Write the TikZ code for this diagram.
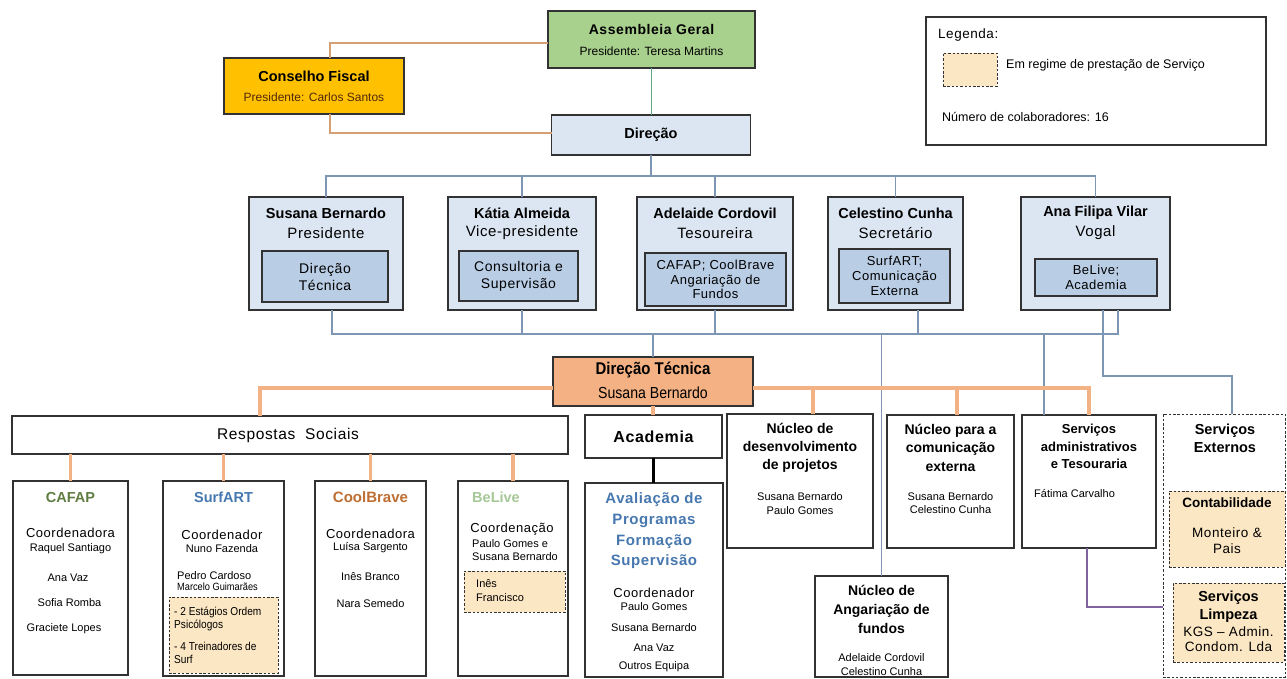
\documentclass[tikz,border=0pt]{standalone}
\usepackage{fontspec}
\setmainfont{Liberation Sans}
\newfontfamily\nar[FakeStretch=0.88,Ligatures=TeX]{Liberation Sans}
\newfontfamily\spc[LetterSpace=4,Ligatures=TeX]{Liberation Sans}
\newcommand{\fsz}[2]{\fontsize{#1}{#2}\selectfont}
\definecolor{agfill}{RGB}{169,209,142}
\definecolor{cffill}{RGB}{255,192,0}
\definecolor{lblue}{RGB}{220,230,242}
\definecolor{mblue}{RGB}{185,205,229}
\definecolor{dtfill}{RGB}{244,177,131}
\definecolor{beige}{RGB}{252,231,196}
\definecolor{bordc}{RGB}{50,50,50}
\definecolor{tanl}{RGB}{212,160,115}
\definecolor{greenl}{RGB}{95,170,130}
\definecolor{bluel}{RGB}{125,150,180}
\definecolor{orangel}{RGB}{242,178,132}
\definecolor{purplel}{RGB}{128,100,162}
\definecolor{cafapc}{RGB}{95,125,65}
\definecolor{surfc}{RGB}{70,120,175}
\definecolor{coolc}{RGB}{190,110,50}
\definecolor{belivec}{RGB}{165,200,150}
\definecolor{avalc}{RGB}{70,120,175}
\definecolor{cftext}{RGB}{80,40,10}
\begin{document}
\begin{tikzpicture}[x=1pt,y=-1pt,
  box/.style={draw=bordc,line width=1.1pt,inner sep=0pt,outer sep=0pt},
  dbox/.style={draw=bordc,line width=1pt,dash pattern=on 2.5pt off 1.8pt,inner sep=0pt,outer sep=0pt},
  txt/.style={inner sep=0pt,align=center},
  ltxt/.style={inner sep=0pt,align=left,anchor=west},
  tanline/.style={draw=tanl,line width=1.3pt},
  greenline/.style={draw=greenl,line width=1.3pt},
  blueline/.style={draw=bluel,line width=1.3pt},
  orangeline/.style={draw=orangel,line width=3.5pt},
  blackline/.style={draw=black,line width=3.5pt},
  purpleline/.style={draw=purplel,line width=1.3pt}]
\useasboundingbox (0,0) rectangle (1287,678);
\fill[white] (0,0) rectangle (1287,678);

% ---------- top
\node[box,fill=agfill,minimum width=207pt,minimum height=57pt] (ag) at (651.5,39.5) {};
\node[txt,font=\fsz{14}{16}\spc\bfseries] (agt1) at (651.5,29) {Assembleia Geral};
\node[txt,font=\fsz{12}{14}] (agt2) at (651.5,51) {Presidente: Teresa Martins};

\node[box,fill=cffill,minimum width=180pt,minimum height=56pt] (cf) at (314,86) {};
\node[txt,font=\fsz{14.5}{16}\bfseries] (cft1) at (314,76) {Conselho Fiscal};
\node[txt,font=\fsz{12}{14},text=cftext] (cft2) at (314,97) {Presidente: Carlos Santos};

\node[box,fill=lblue,minimum width=199pt,minimum height=40pt,font=\fsz{14.5}{16}\bfseries] (dir) at (651,135) {Direção};

\draw[tanline] ([yshift=-3.5pt]ag.west) -| ([xshift=16pt]cf.north);
\draw[tanline] ([xshift=16pt]cf.south) |- ([yshift=2pt]dir.west);
\draw[greenline] (ag.south) -- (ag.south |- dir.north);

% ---------- legend
\node[draw=bordc,line width=1.1pt,minimum width=340pt,minimum height=128pt,inner sep=0pt] (leg) at (1096,81) {};
\node[ltxt,font=\fsz{13.5}{16}\spc] (legt) at (938,35) {Legenda:};
\node[dbox,fill=beige,minimum width=54pt,minimum height=33pt] (lgsw) at (970,69.5) {};
\node[ltxt,font=\fsz{12.5}{15}] (legt2) at (1006,65) {Em regime de prestação de Serviço};
\node[ltxt,font=\fsz{12.5}{15}] (legt3) at (942,117) {Número de colaboradores: 16};

% ---------- board
\tikzset{bb/.style={box,fill=lblue,minimum height=113pt},
         ib/.style={box,fill=mblue,align=center,font=\fsz{14}{17}\spc},
         bname/.style={txt,font=\fsz{14.5}{16}\bfseries},
         brole/.style={txt,font=\fsz{15}{17}\spc}}
\node[bb,minimum width=154pt] (sb) at (326,253.5) {};
\node[bname] (sbn) at (326,213) {Susana Bernardo};
\node[brole] (sbr) at (326,233) {Presidente};
\node[ib,minimum width=126pt,minimum height=51pt] (sbi) at (325,276.5) {Direção\\Técnica};

\node[bb,minimum width=148pt] (ka) at (522,253.5) {};
\node[bname] (kan) at (522,213) {Kátia Almeida};
\node[brole] (kar) at (522,233) {Vice-presidente};
\node[ib,minimum width=119pt,minimum height=50pt] (kai) at (518.5,276) {Consultoria e\\Supervisão};

\node[bb,minimum width=156pt] (ac) at (715,253.5) {};
\node[bname] (acn) at (715,213) {Adelaide Cordovil};
\node[brole] (acr) at (715,233) {Tesoureira};
\node[ib,minimum width=141pt,minimum height=53pt,font=\fsz{13}{14.5}\spc] (aci) at (715.5,279.5) {CAFAP; CoolBrave\\Angariação de\\Fundos};

\node[bb,minimum width=135pt] (cc) at (895.5,253.5) {};
\node[bname] (ccn) at (895.5,213) {Celestino Cunha};
\node[brole] (ccr) at (895.5,233) {Secretário};
\node[ib,minimum width=111pt,minimum height=54pt,font=\fsz{13}{15}\spc] (cci) at (894.5,276) {SurfART;\\Comunicação\\Externa};

\node[bb,minimum width=149pt] (af) at (1095.5,253.5) {};
\node[bname] (afn) at (1095.5,213) {Ana Filipa Vilar};
\node[brole] (afr) at (1095.5,233) {Vogal};
\node[ib,minimum width=122pt,minimum height=37pt,font=\fsz{13}{15}\spc] (afi) at (1096,277.5) {BeLive;\\Academia};

\coordinate (tb) at (0,176);
\draw[blueline] (dir.south) -- (dir.south |- tb);
\draw[blueline] (sb.north) -- (sb.north |- tb) -| (af.north);
\draw[blueline] (ka.north) -- (ka.north |- tb);
\draw[blueline] (ac.north) -- (ac.north |- tb);
\draw[blueline] (cc.north) -- (cc.north |- tb);

% ---------- direção técnica
\node[box,fill=dtfill,minimum width=200pt,minimum height=49pt] (dt) at (653,381.5) {};
\node[txt,font=\fsz{17}{18}\nar\bfseries] (dtt1) at (653,370) {Direção Técnica};
\node[txt,font=\fsz{16}{18}\nar] (dtt2) at (653,393) {Susana Bernardo};

\coordinate (bbus) at (0,334);
\draw[blueline] ([xshift=6pt]sb.south) -- ([xshift=6pt]sb.south |- bbus) -| ([xshift=22.5pt]af.south);
\draw[blueline] (ka.south) -- (ka.south |- bbus);
\draw[blueline] (ac.south) -- (ac.south |- bbus);
\draw[blueline] ([xshift=22.5pt]cc.south) -- ([xshift=22.5pt]cc.south |- bbus);
\draw[blueline] (dt.north) -- (dt.north |- bbus);

% ---------- second level
\node[box,minimum width=556pt,minimum height=38pt] (rs) at (290,435) {};
\node[txt,font=\fsz{15.5}{18}\nar\spc] (rst) at (288,435) {Respostas\ \ Sociais};

\node[box,minimum width=137pt,minimum height=43pt,font=\fsz{16}{18}\spc\bfseries] (acad) at (653.5,436.5) {Academia};

\node[box,minimum width=146pt,minimum height=134pt] (nd) at (800,481) {};
\node[txt,font=\fsz{14}{18}\bfseries] (ndt) at (800,448) {Núcleo de\\desenvolvimento\\de projetos};
\node[txt,font=\fsz{11}{13.5}] (ndp) at (800,503.5) {Susana Bernardo\\Paulo Gomes};

\node[box,minimum width=127pt,minimum height=133pt] (nc) at (950.5,481.5) {};
\node[txt,font=\fsz{14}{18.5}\bfseries] (nct) at (950.5,447.5) {Núcleo para a\\comunicação\\externa};
\node[txt,font=\fsz{11}{13.5}] (ncp) at (950.5,503) {Susana Bernardo\\Celestino Cunha};

\node[box,minimum width=134pt,minimum height=133pt] (sa) at (1089,481.5) {};
\node[txt,font=\fsz{13}{17.5}\bfseries] (sat) at (1089,446.5) {Serviços\\administrativos\\e Tesouraria};
\node[ltxt,font=\fsz{11}{13}] (sap) at (1034,493) {Fátima Carvalho};

\node[dbox,minimum width=122pt,minimum height=263pt] (se) at (1224,545.5) {};
\node[txt,font=\fsz{14.5}{18}\bfseries] (set) at (1225,438) {Serviços\\Externos};
\node[dbox,fill=beige,minimum width=116pt,minimum height=76pt] (cont) at (1227,529) {};
\node[txt,font=\fsz{13.5}{16}\bfseries] (contt) at (1227,503) {Contabilidade};
\node[txt,font=\fsz{13.5}{16}\spc] (contp) at (1227,541) {Monteiro \&\\Pais};
\node[dbox,fill=beige,minimum width=111pt,minimum height=79pt] (limp) at (1228.5,622.5) {};
\node[txt,font=\fsz{14.5}{17.5}\bfseries] (limpt) at (1228.5,606.5) {Serviços\\Limpeza};
\node[txt,font=\fsz{13.5}{14.5}\spc] (limpp) at (1228.5,639) {KGS – Admin.\\Condom. Lda};

\node[box,minimum width=133pt,minimum height=101pt] (ang) at (881.5,626.5) {};
\node[txt,font=\fsz{14}{19}\bfseries] (angt) at (881.5,609) {Núcleo de\\Angariação de\\fundos};
\node[txt,font=\fsz{11}{14}] (angp) at (881.5,665) {Adelaide Cordovil\\Celestino Cunha};

\draw[blueline] (ang.north) -- (ang.north |- bbus);
\draw[blueline] ([xshift=-45pt]sa.north) -- ([xshift=-45pt]sa.north |- bbus);
\draw[blueline] ([xshift=7.5pt]af.south) |- ([xshift=8pt,yshift=38pt]se.north) -- ([xshift=8pt]se.north);
\draw[purpleline] ([xshift=-2pt]sa.south) |- ([yshift=-61.5pt]se.west);

% ---------- orange connectors
\coordinate (orow) at (0,388);
\draw[orangeline] (dt.west |- orow) -| ([xshift=-30pt]rs.north);
\draw[orangeline] (dt.east |- orow) -| (sa.north);
\draw[orangeline] ([xshift=13pt]nd.north) -- ([xshift=13pt]nd.north |- orow);
\draw[orangeline] ([xshift=6.5pt]nc.north) -- ([xshift=6.5pt]nc.north |- orow);
\draw[orangeline] (dt.south) -- (dt.south |- acad.north);

% ---------- academia detail
\node[box,minimum width=138pt,minimum height=194pt] (av) at (654,580) {};
\draw[blackline] (acad.south) -- (acad.south |- av.north);
\node[txt,font=\fsz{15}{20.7}\spc\bfseries,text=avalc] (avt) at (654,531) {Avaliação de\\Programas\\Formação\\Supervisão};
\node[txt,font=\fsz{13}{15}\spc] (avc) at (654,593) {Coordenador};
\node[txt,font=\fsz{11}{13}] (avp1) at (654,607) {Paulo Gomes};
\node[txt,font=\fsz{11}{13}] (avp2) at (654,628) {Susana Bernardo};
\node[txt,font=\fsz{11}{13}] (avp3) at (654,648) {Ana Vaz};
\node[txt,font=\fsz{11}{13}] (avp4) at (654,667) {Outros Equipa};

% ---------- respostas sociais children
\node[box,minimum width=115pt,minimum height=194pt] (cafap) at (70.5,578) {};
\node[box,minimum width=121pt,minimum height=195pt] (surf) at (223.5,578.5) {};
\node[box,minimum width=111pt,minimum height=195pt] (cool) at (370.5,578.5) {};
\node[box,minimum width=110pt,minimum height=195pt] (belive) at (513,578.5) {};
\draw[orangeline] (cafap.north) -- (cafap.north |- rs.south);
\draw[orangeline] (surf.north) -- (surf.north |- rs.south);
\draw[orangeline] (cool.north) -- (cool.north |- rs.south);
\draw[orangeline] (belive.north) -- (belive.north |- rs.south);

\node[txt,font=\fsz{14.5}{16}\bfseries,text=cafapc] (cafapt) at (70.5,497) {CAFAP};
\node[txt,font=\fsz{13}{15}\spc] (cafapc1) at (70.5,533) {Coordenadora};
\node[txt,font=\fsz{11}{13}] (cafapc2) at (70.5,549) {Raquel Santiago};
\node[txt,font=\fsz{11}{13}] (cafapc3) at (68,578) {Ana Vaz};
\node[txt,font=\fsz{11}{13}] (cafapc4) at (69.5,603) {Sofia Romba};
\node[txt,font=\fsz{11}{13}] (cafapc5) at (64,629) {Graciete Lopes};

\node[txt,font=\fsz{14.5}{16}\bfseries,text=surfc] (surft) at (223.5,497) {SurfART};
\node[txt,font=\fsz{13}{15}\spc] (surfc1) at (222,535) {Coordenador};
\node[txt,font=\fsz{11}{13}] (surfc2) at (222,549) {Nuno Fazenda};
\node[ltxt,font=\fsz{11}{13}] (surfc3) at (177,576) {Pedro Cardoso};
\node[ltxt,font=\fsz{10.5}{11}\nar] (surfc4) at (177,587) {Marcelo Guimarães};
\node[dbox,fill=beige,minimum width=109pt,minimum height=76pt] (surfd) at (223.5,635) {};
\node[ltxt,font=\fsz{11.5}{12.5}\nar] (surfd1) at (174,619) {- 2 Estágios Ordem\\Psicólogos};
\node[ltxt,font=\fsz{11.5}{12.5}\nar] (surfd2) at (174,653) {- 4 Treinadores de\\Surf};

\node[txt,font=\fsz{15}{16}\bfseries,text=coolc] (coolt) at (370.5,497) {CoolBrave};
\node[txt,font=\fsz{13}{15}\spc] (coolc1) at (370.5,534) {Coordenadora};
\node[txt,font=\fsz{11}{13}] (coolc2) at (370.5,548) {Luísa Sargento};
\node[txt,font=\fsz{11}{13}] (coolc3) at (370.5,577) {Inês Branco};
\node[txt,font=\fsz{11}{13}] (coolc4) at (370.5,604) {Nara Semedo};

\node[txt,font=\fsz{14.5}{16}\bfseries,text=belivec] (belivet) at (496,497) {BeLive};
\node[txt,font=\fsz{13}{15}\spc] (belivec1) at (512,529) {Coordenação};
\node[ltxt,font=\fsz{11}{13}] (belivec2) at (472,550.5) {Paulo Gomes e\\Susana Bernardo};
\node[dbox,fill=beige,minimum width=101pt,minimum height=41pt] (beld) at (514.5,591.5) {};
\node[ltxt,font=\fsz{11}{14}] (beld1) at (476,591) {Inês\\Francisco};
\end{tikzpicture}
\end{document}
